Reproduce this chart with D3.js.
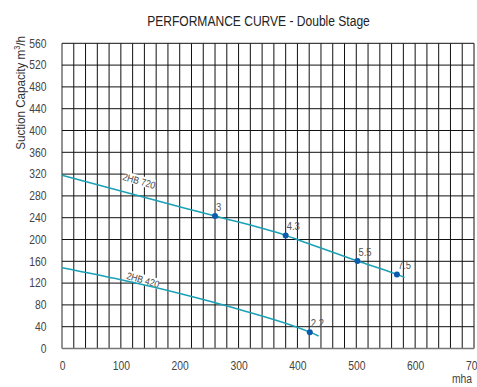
<!DOCTYPE html>
<html><head><meta charset="utf-8">
<script src="https://cdn.jsdelivr.net/npm/d3@7"></script>
<style>
body{margin:0;background:#fff;}
svg text{font-family:"Liberation Sans",Arial,sans-serif;}
</style></head>
<body>
<svg id="c" width="477" height="387"></svg>
<script>
// Data
const xTicks = [0,100,200,300,400,500,600,700];
const yTicks = [0,40,80,120,160,200,240,280,320,360,400,440,480,520,560];
const curve720 = [[0,318],[100,289],[209,257.5],[260,243],[380,207.5],[404,198.3],[502,160.5],[569,136],[582,130.5]];
const curve420 = [[0,148],[100,126],[200,101],[300,72],[421,30],[436,23]];
const points720 = [[260,243,"3"],[380,207.5,"4.3"],[502,160.5,"5.5"],[569,136,"7.5"]];
const points420 = [[421,30,"2.2"]];
const seriesNames = ["2HB 720","2HB 420"];

const svg = d3.select("#c");
const L=62, R=474, T=43.3, B=348.5;
const x = d3.scaleLinear().domain([0,700]).range([L,R]);
const y = d3.scaleLinear().domain([0,560]).range([B,T]);

const grid = svg.append("g");
d3.range(0,701,20).forEach(v=>{
  grid.append("line").attr("x1",x(v)).attr("x2",x(v)).attr("y1",T).attr("y2",B)
    .attr("stroke",v===0?"#777":"#111").attr("stroke-width",v===0?1.6:1);
});
d3.range(0,561,40).forEach(v=>{
  grid.append("line").attr("x1",L).attr("x2",R).attr("y1",y(v)).attr("y2",y(v))
    .attr("stroke",v===0?"#777":"#111").attr("stroke-width",v===0?1.6:1);
});

const xa = svg.append("g").attr("transform",`translate(0,${B+10})`)
  .call(d3.axisBottom(x).tickValues(xTicks).tickSize(0).tickFormat(d3.format("d")));
xa.select(".domain").remove();
xa.selectAll("text").attr("fill","#444").style("font-size","12px");
const ya = svg.append("g").attr("transform",`translate(${L-12.5},0)`)
  .call(d3.axisLeft(y).tickValues(yTicks).tickSize(0).tickFormat(d3.format("d")));
ya.select(".domain").remove();
ya.selectAll("text").attr("fill","#444").style("font-size","12px");

const line = d3.line().x(d=>x(d[0])).y(d=>y(d[1])).curve(d3.curveMonotoneX);

function label(txt, cx, cy, ang){
  const g = svg.append("g").attr("transform",`translate(${cx},${cy}) rotate(${ang})`);
  g.append("rect").attr("x",-16).attr("y",-5.5).attr("width",32).attr("height",10).attr("fill","#fff");
  g.append("text").attr("text-anchor","middle").attr("dy","0.35em").attr("fill","#444")
    .style("font-size","10px").text(txt);
}
label(seriesNames[0], 139, 181, 16);
label(seriesNames[1], 143, 280, 16);

[curve720, curve420].forEach(c=>{
  svg.append("path").attr("d",line(c)).attr("fill","none").attr("stroke","#1aa1b6").attr("stroke-width",1.5);
});

[...points720, ...points420].forEach(p=>{
  svg.append("circle").attr("cx",x(p[0])).attr("cy",y(p[1])).attr("r",3).attr("fill","#0b5cad");
  svg.append("text").attr("x",x(p[0])+1).attr("y",y(p[1])-5).attr("fill","#555")
    .style("font-size","11px").text(p[2]);
});

svg.append("text").attr("x",258.5).attr("y",26).attr("text-anchor","middle").attr("fill","#222")
  .style("font-size","14px").text("PERFORMANCE CURVE - Double Stage");
svg.append("text").attr("transform","translate(24.5,36) rotate(-90)").attr("text-anchor","end")
  .attr("fill","#333").style("font-size","13.5px").html('Suction Capacity m<tspan baseline-shift="super" font-size="8.5px">3</tspan>/h');
svg.append("text").attr("x",472).attr("y",383).attr("text-anchor","end").attr("fill","#444")
  .style("font-size","12px").text("mha");

// condense all text to mimic a narrow face
svg.selectAll("text").each(function(){
  const len = this.getComputedTextLength();
  d3.select(this).attr("textLength", (len*0.86).toFixed(2)).attr("lengthAdjust","spacingAndGlyphs");
});
</script>
</body></html>
